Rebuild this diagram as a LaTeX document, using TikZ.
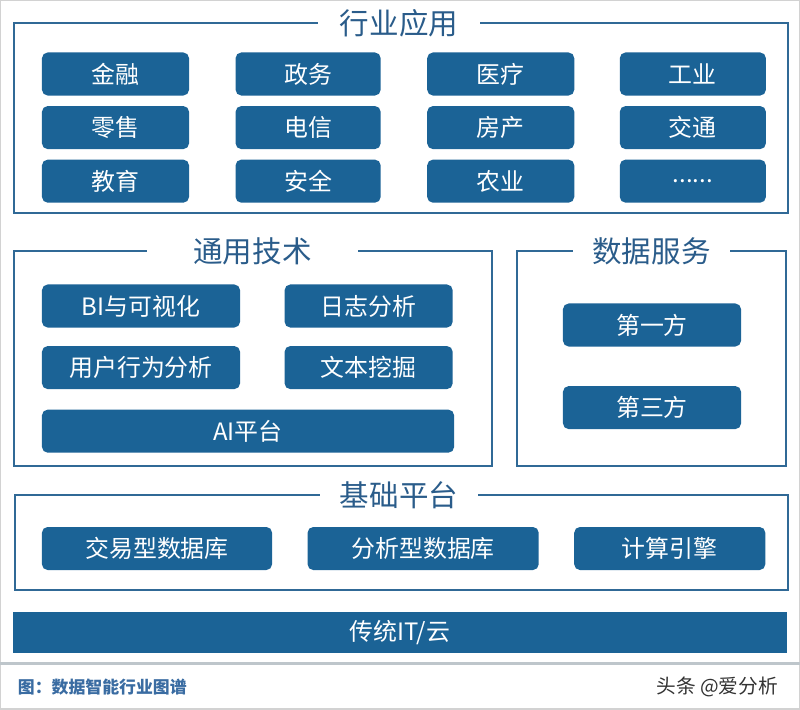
\documentclass[tikz,border=0pt]{standalone}
\usepackage{fontspec}
\usepackage{xcolor}
\usepackage{tikz}
\usetikzlibrary{positioning}
\setmainfont{Noto Sans CJK SC}
\definecolor{tileblue}{RGB}{27,99,150}
\definecolor{frameblue}{RGB}{48,105,150}
\definecolor{titleblue}{RGB}{42,92,138}
\definecolor{capblue}{RGB}{58,108,162}
\definecolor{sepgray}{RGB}{190,198,203}

\begin{document}
\begin{tikzpicture}[x=0.025cm, y=-0.025cm,
    tile/.style={fill=tileblue, text=white, rounded corners=4pt, minimum height=1.075cm,
      inner sep=0pt, font=\fontsize{17}{20}\selectfont},
    heading/.style={text=titleblue, inner sep=0pt, minimum height=0.8cm, font=\fontsize{21}{24}\selectfont},
    frame/.style={draw=frameblue, line width=0.9pt}]
    \useasboundingbox (0,0) rectangle (800,709);
    \draw[gray!35, line width=1.2pt] (0,0) rectangle (800,709);

    % 行业应用
    \node[heading, minimum width=4.05cm] (t1) at (399,23) {行业应用};
    \draw[frame] (t1.west) -- (14,23) -- (14,213) -- (788,213) -- (788,23) -- (t1.east);
    \node[tile, minimum width=3.675cm] (jr) at (115.5,74) {金融};
    \node[tile, minimum width=3.625cm, right=1.15cm of jr] (zw) {政务};
    \node[tile, minimum width=3.675cm, right=1.15cm of zw] (yl) {医疗};
    \node[tile, minimum width=3.65cm, right=1.125cm of yl] (gy) {工业};
    \node[tile, minimum width=3.675cm, below=0.25cm of jr] (ls) {零售};
    \node[tile, minimum width=3.625cm, below=0.25cm of zw] (dx) {电信};
    \node[tile, minimum width=3.675cm, below=0.25cm of yl] (fc) {房产};
    \node[tile, minimum width=3.65cm, below=0.25cm of gy] (jt) {交通};
    \node[tile, minimum width=3.675cm, below=0.25cm of ls] (jy) {教育};
    \node[tile, minimum width=3.625cm, below=0.25cm of dx] (aq) {安全};
    \node[tile, minimum width=3.675cm, below=0.25cm of fc] (ny) {农业};
    \node[tile, minimum width=3.65cm, below=0.25cm of jt] (more) {......};

    % 通用技术
    \node[heading, minimum width=5.275cm] (t2) at (252.5,251) {通用技术};
    \draw[frame] (t2.west) -- (14,251) -- (14,466) -- (492,466) -- (492,251) -- (t2.east);
    \node[tile, minimum width=4.95cm] (bi) at (141,306) {BI与可视化};
    \node[tile, minimum width=4.2cm, right=1.1cm of bi] (rz) {日志分析};
    \node[tile, minimum width=4.95cm, below=0.45cm of bi] (ux) {用户行为分析};
    \node[tile, minimum width=4.2cm, below=0.45cm of rz] (wb) {文本挖掘};
    \node[tile, minimum width=10.3cm, anchor=north west] (ai) at ([yshift=-0.5cm]ux.south west) {AI平台};

    % 数据服务
    \node[heading, minimum width=3.925cm] (t3) at (651.5,251) {数据服务};
    \draw[frame] (t3.west) -- (517,251) -- (517,466) -- (786,466) -- (786,251) -- (t3.east);
    \node[tile, minimum width=4.45cm] (p1) at (652,325) {第一方};
    \node[tile, minimum width=4.45cm, below=0.975cm of p1] (p3) {第三方};

    % 基础平台
    \node[heading, minimum width=3.95cm] (t4) at (399,495) {基础平台};
    \draw[frame] (t4.west) -- (15,495) -- (15,590) -- (788,590) -- (788,495) -- (t4.east);
    \node[tile, minimum width=5.75cm] (oltp) at (157,548.5) {交易型数据库};
    \node[tile, minimum width=5.775cm, right=0.875cm of oltp] (olap) {分析型数据库};
    \node[tile, minimum width=4.775cm, right=0.875cm of olap] (calc) {计算引擎};

    % 传统IT/云
    \node[tile, rounded corners=0pt, minimum width=19.35cm, minimum height=1.025cm] (cloud) at (400,632.5) {传统IT/云};

    \draw[sepgray, line width=2pt] (0,663.5) -- (800,663.5);
    \node[anchor=west, text=capblue, font=\fontsize{12}{14}\selectfont\bfseries] (cap) at (13,687) {图：数据智能行业图谱};
    \node[anchor=east, text=black!80, font=\fontsize{14}{16}\selectfont] (mark) at (783,687) {头条 @爱分析};
\end{tikzpicture}
\end{document}
